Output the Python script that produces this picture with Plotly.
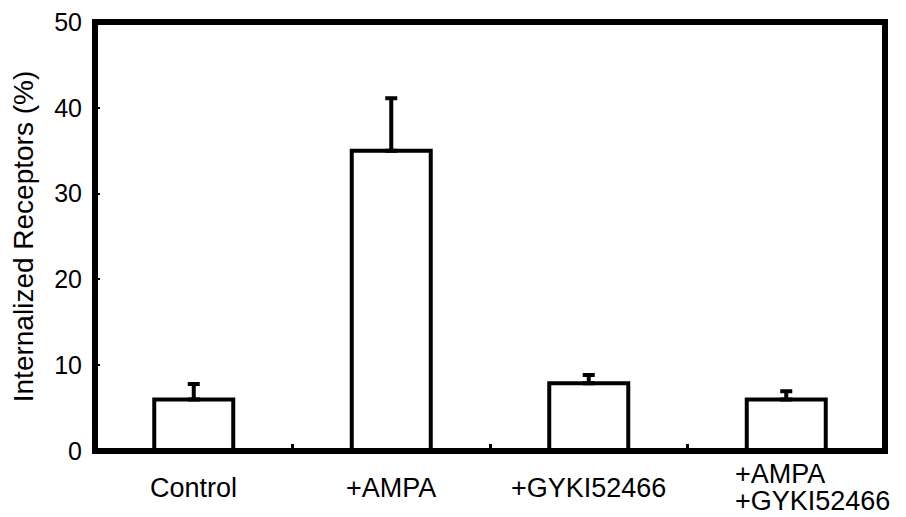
import plotly.graph_objects as go

categories = ["Control", "+AMPA", "+GYKI52466", "+AMPA<br>+GYKI52466"]
values = [6.0, 35.0, 7.9, 6.0]
errors = [1.8, 6.1, 0.95, 0.95]
y_ticks = [0, 10, 20, 30, 40, 50]
y_title = "Internalized Receptors (%)"

FONT = "Liberation Sans, Arial, Helvetica, sans-serif"

fig = go.Figure()
fig.add_trace(go.Bar(
    x=categories,
    y=values,
    width=0.4,
    marker=dict(color="white", line=dict(color="black", width=4)),
    error_y=dict(type="data", array=errors, arrayminus=[0] * len(errors),
                 symmetric=False, color="black", thickness=4, width=6),
    showlegend=False,
))

# category labels (left-aligned, tight line spacing for the multi-line one)
line_gap = 27
for cat in categories:
    lines = cat.split("<br>")
    n = len(lines)
    for k, txt in enumerate(lines):
        yc = 36.5 + (k - (n - 1) / 2) * line_gap
        fig.add_annotation(
            x=cat, y=0, xref="x", yref="paper",
            text=txt, showarrow=False,
            xanchor="left" if n > 1 else "center",
            xshift=-53 if n > 1 else 0,
            yanchor="middle", yshift=-yc,
            font=dict(family=FONT, size=27, color="black"),
        )

# thick frame
fig.add_shape(type="rect", xref="paper", yref="paper", x0=0, x1=1, y0=0, y1=1,
              line=dict(color="black", width=6), layer="above")

fig.update_layout(
    width=898, height=509,
    margin=dict(l=87, r=21, t=14, b=66),
    paper_bgcolor="white", plot_bgcolor="white",
    font=dict(family=FONT, color="black"),
    xaxis=dict(
        type="category", range=[-0.5, 3.5], tickson="boundaries",
        ticks="inside", ticklen=7, tickwidth=3, tickcolor="black",
        showticklabels=False, showgrid=False, zeroline=False, showline=False,
    ),
    yaxis=dict(
        range=[0, 50], tickvals=y_ticks, ticks="inside", ticklen=5, tickwidth=2,
        tickcolor="black", showgrid=False, zeroline=False, showline=False,
        tickfont=dict(family=FONT, size=25, color="black"),
        ticklabelstandoff=12, ticklabeloverflow="allow",
        title=dict(text=y_title, font=dict(family=FONT, size=28, color="black"),
                   standoff=14),
        automargin=False,
    ),
)

fig.write_html("out.html")
